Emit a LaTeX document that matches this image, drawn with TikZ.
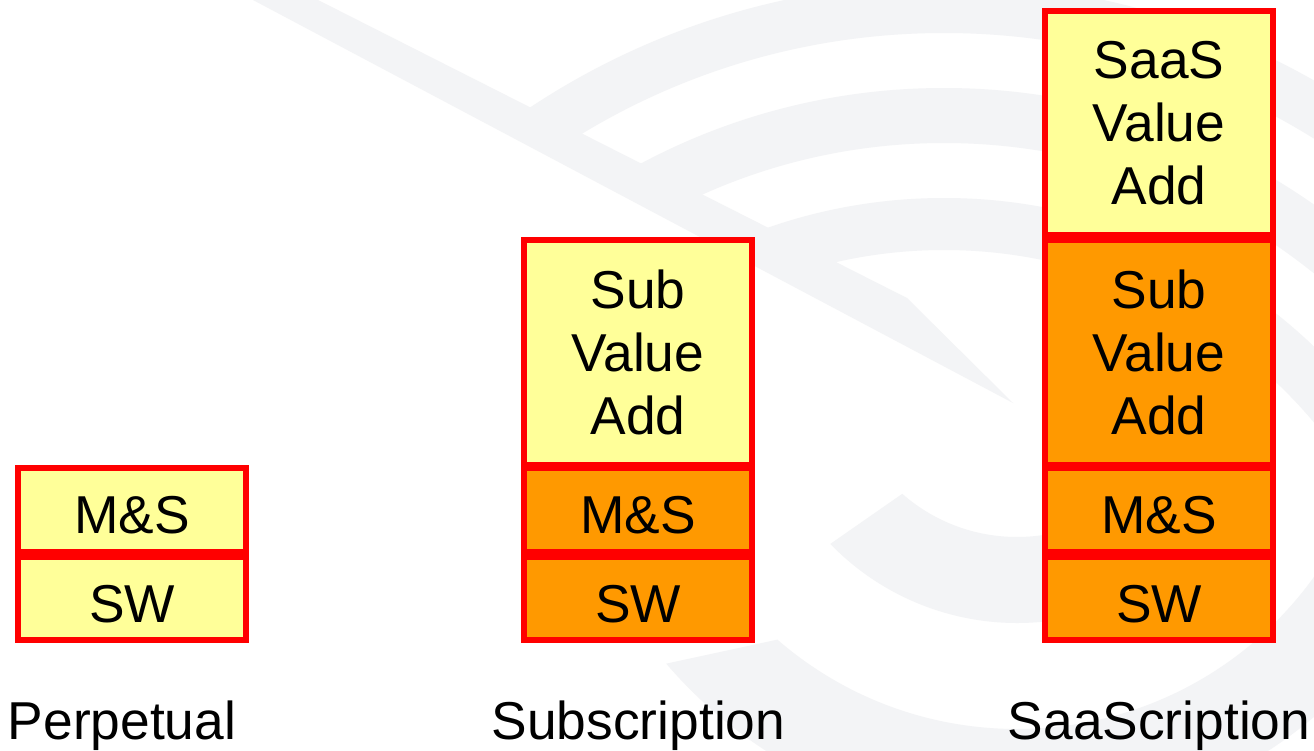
\documentclass[tikz,border=0pt]{standalone}
\usepackage{fontspec}
\setmainfont{Liberation Sans}
\definecolor{lemon}{HTML}{FFFF99}
\definecolor{amber}{HTML}{FF9900}
\definecolor{framered}{HTML}{FF0000}
\definecolor{wmgrey}{RGB}{243,244,246}
\begin{document}
\begin{tikzpicture}[x=0.75pt, y=-0.75pt,
  cell/.style={draw=framered, line width=4.8pt, minimum width=170.625pt,
    inner sep=0pt, outer sep=0pt},
  lowcell/.style={cell, minimum height=62.25pt},
  midcell/.style={cell, minimum height=63pt},
  tallcell/.style={cell, minimum height=168.75pt},
  topcell/.style={cell, minimum height=168.375pt},
  txt/.style={anchor=base, inner sep=0pt, outer sep=0pt,
    font=\fontsize{40pt}{47.5pt}\selectfont}]

% page
\fill[white] (0,0) rectangle (1314,750);
\useasboundingbox (0,0) rectangle (1314,750);

% faint logo in the background: a slanted band with rings around it
\fill[wmgrey] (253,0) -- (318,0) -- (907,298) -- (1013,403) -- cycle;
\begin{scope}
  \clip (295,0) -- (1314,0) -- (1314,460) -- (900,460) -- (900,305) -- cycle;
  \draw[wmgrey, line width=39pt]    (944,733) circle[radius=509];
  \draw[wmgrey, line width=41.25pt] (944,733) circle[radius=617.5];
  \draw[wmgrey, line width=37.5pt]  (944,733) circle[radius=725];
\end{scope}
\fill[wmgrey] ([shift={(131.25:174)}]1017,363)
  arc[start angle=131.25, end angle=-10, radius=174] -- ++(-10:86)
  arc[start angle=-10, end angle=135.9, radius=260] -- cycle;
\fill[wmgrey] ([shift={(130.9:366)}]1017,363)
  arc[start angle=130.9, end angle=-5, radius=366] -- ++(-5:96)
  arc[start angle=-5, end angle=139.4, radius=462] -- cycle;

% Perpetual
\node[lowcell, fill=lemon] (perp-sw) at (132,598.3) {};
\node[midcell, fill=lemon] (perp-ms) at (132,510.2) {};
\node[txt] (perp-sw-t) at (132,622.7) {SW};
\node[txt] (perp-ms-t) at (132,533) {M\&S};
\node[txt] (perp-lbl) at (122,739) {Perpetual};

% Subscription
\node[lowcell, fill=amber] (sub-sw) at (638,598.3) {};
\node[midcell, fill=amber] (sub-ms) at (638,510.2) {};
\node[tallcell, fill=lemon] (sub-va) at (638,352.7) {};
\node[txt] (sub-sw-t) at (638,622.7) {SW};
\node[txt] (sub-ms-t) at (638,533) {M\&S};
\node[txt] (sub-va-t) at (638,308) {\begin{tabular}[t]{@{}c@{}}Sub\\Value\\Add\end{tabular}};
\node[txt] (sub-lbl) at (638.5,739) {Subscription};

% SaaScription
\node[lowcell, fill=amber] (saas-sw) at (1159,598.3) {};
\node[midcell, fill=amber] (saas-ms) at (1159,510.2) {};
\node[tallcell, fill=amber] (saas-sub) at (1159,352.7) {};
\node[topcell, fill=lemon] (saas-va) at (1159,123) {};
\node[txt] (saas-sw-t) at (1159,622.7) {SW};
\node[txt] (saas-ms-t) at (1159,533) {M\&S};
\node[txt] (saas-sub-t) at (1159,308) {\begin{tabular}[t]{@{}c@{}}Sub\\Value\\Add\end{tabular}};
\node[txt] (saas-va-t) at (1159,78) {\begin{tabular}[t]{@{}c@{}}SaaS\\Value\\Add\end{tabular}};
\node[txt] (saas-lbl) at (1159,739) {SaaScription};
\end{tikzpicture}
\end{document}
